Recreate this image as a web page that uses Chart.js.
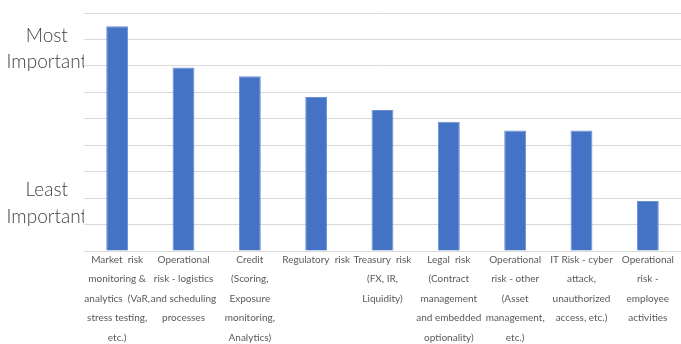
<!DOCTYPE html>
<html>
<head>
<meta charset="utf-8">
<script src="https://cdn.jsdelivr.net/npm/chart.js@4"></script>
<style>
  html, body { margin: 0; padding: 0; background: #ffffff; }
  #wrap { width: 681px; height: 344px; }
</style>
</head>
<body>
<div id="wrap"><canvas id="chart"></canvas></div>
<script>
// Categories (wrapped as in the original)
const categories = [
    ['Market  risk', 'monitoring &', 'analytics  (VaR,', 'stress testing,', 'etc.)'],
    ['Operational', 'risk - logistics', 'and scheduling', 'processes'],
    ['Credit', '(Scoring,', 'Exposure', 'monitoring,', 'Analytics)'],
    ['Regulatory  risk'],
    ['Treasury  risk', '(FX, IR,', 'Liquidity)'],
    ['Legal  risk', '(Contract', 'management', 'and embedded', 'optionality)'],
    ['Operational', 'risk - other', '(Asset', 'management,', 'etc.)'],
    ['IT Risk - cyber', 'attack,', 'unauthorized', 'access, etc.)'],
    ['Operational', 'risk -', 'employee', 'activities']
];

// Importance scores (scale 0-9)
const importance = [8.5, 6.94, 6.61, 5.82, 5.33, 4.89, 4.56, 4.56, 1.89];

// Axis end labels and where they sit on the scale
const endLabels = [['Least', 'Important'], ['Most', 'Important']];
const endLabelValues = [1.8, 7.64];

const gridColor = '#d9d9d9';

new Chart(document.getElementById('chart'), {
    type: 'bar',
    data: {
        labels: categories,
        datasets: [{
            data: importance,
            backgroundColor: '#4472C4',
            borderColor: '#6a8fd4',
            borderWidth: { top: 1, left: 1, right: 1, bottom: 0 },
            barPercentage: 0.33,
            categoryPercentage: 1
        }]
    },
    options: {
        responsive: true,
        maintainAspectRatio: false,
        animation: false,
        layout: { padding: { top: 13, left: 0, right: 0, bottom: 0 } },
        plugins: {
            legend: { display: false },
            tooltip: { enabled: false }
        },
        scales: {
            x: {
                grid: { display: false, drawTicks: false },
                border: { display: false },
                ticks: {
                    autoSkip: false,
                    maxRotation: 0,
                    minRotation: 0,
                    padding: -1,
                    color: '#595959',
                    font: { family: 'Lato', size: 10, lineHeight: 1.95 }
                },
                afterFit: function(scale) {
                    scale.height = 93;
                    scale.paddingLeft = 0;
                    scale.paddingRight = 0;
                }
            },
            y: {
                min: 0,
                max: 9,
                weight: 1,
                ticks: { display: false, stepSize: 1 },
                grid: { color: gridColor, lineWidth: 1, drawTicks: false },
                border: { display: false },
                afterFit: function(scale) {
                    scale.width = 0;
                    scale.paddingTop = 0;
                    scale.paddingBottom = 0;
                }
            },
            yLabel: {
                type: 'linear',
                position: 'left',
                min: 0,
                max: 9,
                weight: 2,
                grid: { display: false, drawTicks: false },
                border: { display: false },
                afterBuildTicks: function(scale) {
                    scale.ticks = endLabelValues.map(v => ({ value: v }));
                },
                ticks: {
                    crossAlign: 'center',
                    padding: -3,
                    color: '#404040',
                    font: { family: 'Lato', size: 19, weight: '300', lineHeight: 1.39 },
                    callback: function(value, index) {
                        return endLabels[index];
                    }
                },
                afterFit: function(scale) {
                    scale.width = 84;
                    scale.paddingTop = 0;
                    scale.paddingBottom = 0;
                }
            }
        }
    }
});
</script>
</body>
</html>
